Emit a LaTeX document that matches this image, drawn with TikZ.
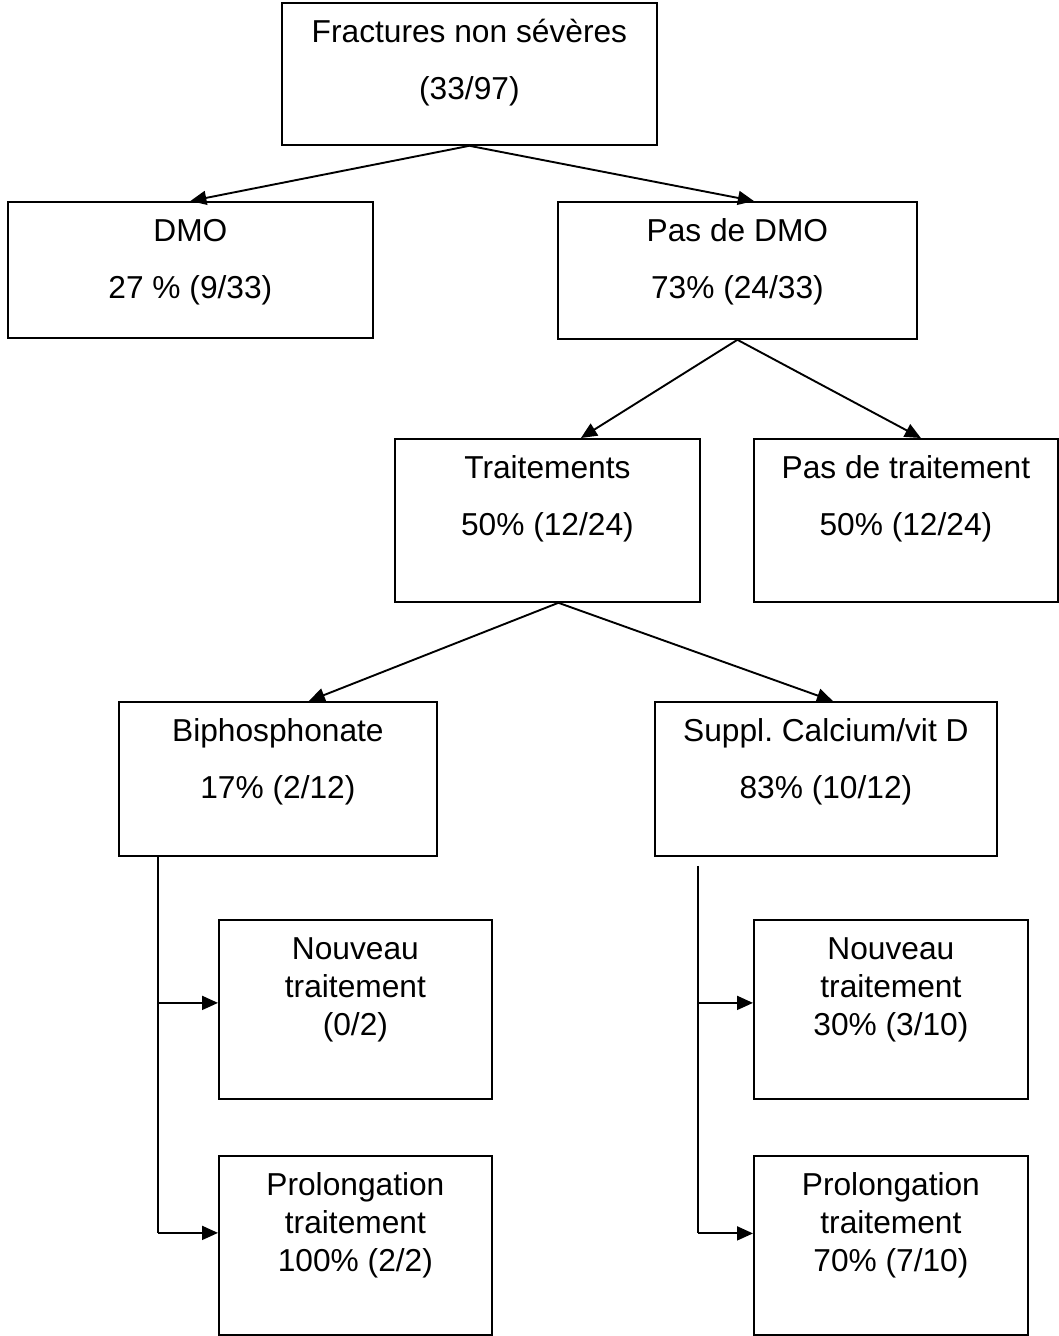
\documentclass[tikz,border=0pt]{standalone}
\usepackage{fontspec}
\setmainfont{Liberation Sans}
\usepackage{amsmath}
\usetikzlibrary{positioning,arrows.meta}

\tikzset{
	>={Triangle[length=16pt,width=14pt]},
	box/.style n args={2}{draw, line width=1.8pt, anchor=north west, inner sep=0pt, minimum width=#1, minimum height=#2},
	txttwo/.style={align=center, inner sep=0pt, font=\fontsize{31.7pt}{56.5pt}\selectfont},
	txtthree/.style={align=center, inner sep=0pt, font=\fontsize{31.7pt}{38pt}\selectfont},
	link/.style={line width=1.9pt}
}
\newcommand{\firstline}{\rule{0pt}{25pt}}
\frenchspacing

\begin{document}
\begin{tikzpicture}[x=1pt, y=-1pt]
			\useasboundingbox (0, 0) rectangle (1059, 1336);
			\node[box={375pt}{142pt}] (frac) at (281, 2) {};
			\node[box={365pt}{136pt}] (dmo) at (7, 201) {};
			\node[box={359pt}{137pt}] (pdmo) at (557, 201) {};
			\node[box={305pt}{163pt}] (trt) at (394, 438) {};
			\node[box={304pt}{163pt}] (ptrt) at (753, 438) {};
			\node[box={318pt}{154pt}] (bip) at (118, 701) {};
			\node[box={342pt}{154pt}] (sup) at (654, 701) {};
			\node[box={273pt}{179pt}] (nl) at (218, 919) {};
			\node[box={273pt}{179pt}] (pl) at (218, 1155) {};
			\node[box={274pt}{179pt}] (nr) at (753, 919) {};
			\node[box={274pt}{179pt}] (pr) at (753, 1155) {};

			\node[txttwo, below=15.5pt of frac.north] (frac-t) {\firstline Fractures non sévères\\(33/97)};
			\node[txttwo, below=15.5pt of dmo.north] (dmo-t) {\firstline DMO\\27 \% (9/33)};
			\node[txttwo, below=15.5pt of pdmo.north] (pdmo-t) {\firstline Pas de DMO\\73\% (24/33)};
			\node[txttwo, below=15.5pt of trt.north] (trt-t) {\firstline Traitements\\50\% (12/24)};
			\node[txttwo, below=15.5pt of ptrt.north] (ptrt-t) {\firstline Pas de traitement\\50\% (12/24)};
			\node[txttwo, below=15.5pt of bip.north] (bip-t) {\firstline Biphosphonate\\17\% (2/12)};
			\node[txttwo, below=15.5pt of sup.north] (sup-t) {\firstline Suppl. Calcium/vit D\\83\% (10/12)};
			\node[txtthree, below=15.5pt of nl.north] (nl-t) {\firstline Nouveau\\traitement\\(0/2)};
			\node[txtthree, below=15.5pt of pl.north] (pl-t) {\firstline Prolongation\\traitement\\100\% (2/2)};
			\node[txtthree, below=15.5pt of nr.north] (nr-t) {\firstline Nouveau\\traitement\\30\% (3/10)};
			\node[txtthree, below=15.5pt of pr.north] (pr-t) {\firstline Prolongation\\traitement\\70\% (7/10)};

			\draw [->, link] (frac.south) -- (dmo.north);
			\draw [->, link] (frac.south) -- ([xshift=16.5pt]pdmo.north);
			\draw [->, link] (pdmo.south) -- ([xshift=33.5pt]trt.north);
			\draw [->, link] (pdmo.south) -- ([xshift=15pt]ptrt.north);
			\draw [->, link] ([xshift=11pt]trt.south) -- ([xshift=31pt]bip.north);
			\draw [->, link] ([xshift=11pt]trt.south) -- ([xshift=7pt]sup.north);

			\coordinate (lb) at ([xshift=40pt]bip.south west);
			\coordinate (anl) at ([yshift=6.5pt]nl.west);
			\coordinate (apl) at ([yshift=12.5pt]pl.west);
			\draw [link] (lb) -- (lb |- apl);
			\draw [->, link] (lb |- anl) -- (anl);
			\draw [->, link] (lb |- apl) -- (apl);

			\coordinate (rb) at ([xshift=44pt, yshift=-9pt]sup.south west);
			\coordinate (anr) at ([yshift=6.5pt]nr.west);
			\coordinate (apr) at ([yshift=12pt]pr.west);
			\draw [link] (rb) -- (rb |- apr);
			\draw [->, link] (rb |- anr) -- (anr);
			\draw [->, link] (rb |- apr) -- (apr);
		\end{tikzpicture}
\end{document}
